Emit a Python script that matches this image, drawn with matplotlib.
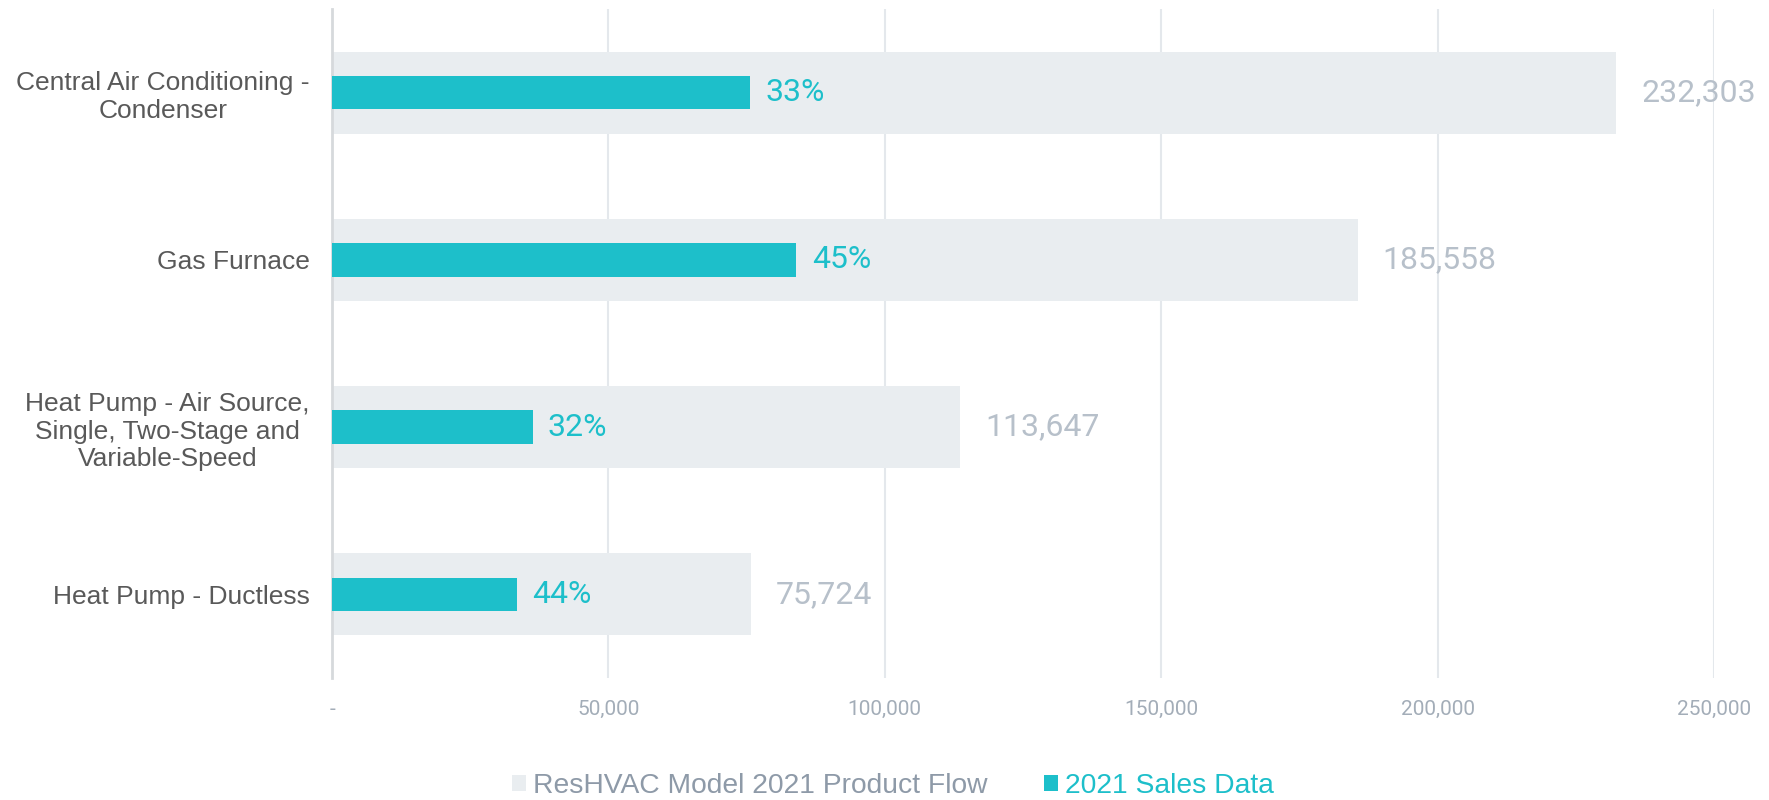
import matplotlib as mpl
mpl.use('Agg')
import matplotlib.pyplot as plt
from matplotlib.patches import Patch
from matplotlib.ticker import FuncFormatter

# Data
categories = [
    'Central Air Conditioning -\nCondenser',
    'Gas Furnace',
    'Heat Pump - Air Source,\nSingle, Two-Stage and\nVariable-Speed',
    'Heat Pump - Ductless',
]
product_flow = [232303, 185558, 113647, 75724]
sales_data = [75600, 84000, 36300, 33500]

series_names = ['ResHVAC Model 2021 Product Flow', '2021 Sales Data']

GRAY_BAR = '#E9EDF0'
TEAL = '#1DBFCA'
LABEL_GRAY = '#B7C0CA'
TICK_GRAY = '#A3ADB8'
LEGEND_GRAY = '#8E9AA8'
CAT_COLOR = '#595959'

# numbers are set in a narrow face in the original; Roboto is the closest here
NUM_FONT = ['Roboto', 'Liberation Sans', 'DejaVu Sans']
plt.rcParams['font.family'] = ['Liberation Sans', 'DejaVu Sans']

fig = plt.figure(figsize=(17.69, 8.0), dpi=100)
ax = fig.add_axes([332 / 1769, 1 - 678 / 800, (1714 - 332) / 1769, (678 - 9) / 800])

y = list(range(len(categories)))

ax.barh(y, product_flow, height=0.49, color=GRAY_BAR, zorder=1)
ax.barh(y, sales_data, height=0.2, color=TEAL, zorder=3)

# Value labels
for yi, total, sold in zip(y, product_flow, sales_data):
    ax.annotate(f'{total:,.0f}', (total, yi), xytext=(18, 0),
                textcoords='offset points', va='center', ha='left',
                color=LABEL_GRAY, fontsize=23, family=NUM_FONT,
                annotation_clip=False)
    ax.annotate(f'{round(sold / total * 100):.0f}%', (sold, yi),
                xytext=(11, 0), textcoords='offset points', va='center',
                ha='left', color=TEAL, fontsize=23, family=NUM_FONT)

ax.set_xlim(0, 250000)
ax.set_ylim(len(categories) - 0.5, -0.5)
ax.set_xticks(range(0, 250001, 50000))
ax.xaxis.set_major_formatter(
    FuncFormatter(lambda v, p: '-' if v == 0 else f'{v:,.0f}'))

ax.set_yticks(y)
ax.set_yticklabels(categories, fontsize=19, color=CAT_COLOR, linespacing=1.2)
for lab in ax.get_yticklabels():
    lab.set_multialignment('center')

ax.tick_params(axis='x', length=0, pad=16, labelsize=15, labelcolor=TICK_GRAY)
for lab in ax.get_xticklabels():
    lab.set_family(NUM_FONT)
ax.tick_params(axis='y', length=0, pad=16)

# Gridlines
ax.grid(axis='x', color='#E4E8EC', linewidth=1.5, zorder=0)
ax.set_axisbelow(True)
for side in ['top', 'right', 'bottom']:
    ax.spines[side].set_visible(False)
ax.spines['left'].set_color('#D6D9DC')
ax.spines['left'].set_linewidth(2)

# Legend at the bottom
handles = [Patch(facecolor=GRAY_BAR, edgecolor='none'),
           Patch(facecolor=TEAL, edgecolor='none')]
leg = fig.legend(handles, series_names, loc='center',
                 bbox_to_anchor=(0.505, 1 - 786 / 800), ncol=2, frameon=False,
                 fontsize=20.3, handlelength=0.5, handleheight=0.5,
                 handletextpad=0.25, columnspacing=2.0)
for txt, c in zip(leg.get_texts(), [LEGEND_GRAY, TEAL]):
    txt.set_color(c)

fig.savefig('out.png', dpi=100)
